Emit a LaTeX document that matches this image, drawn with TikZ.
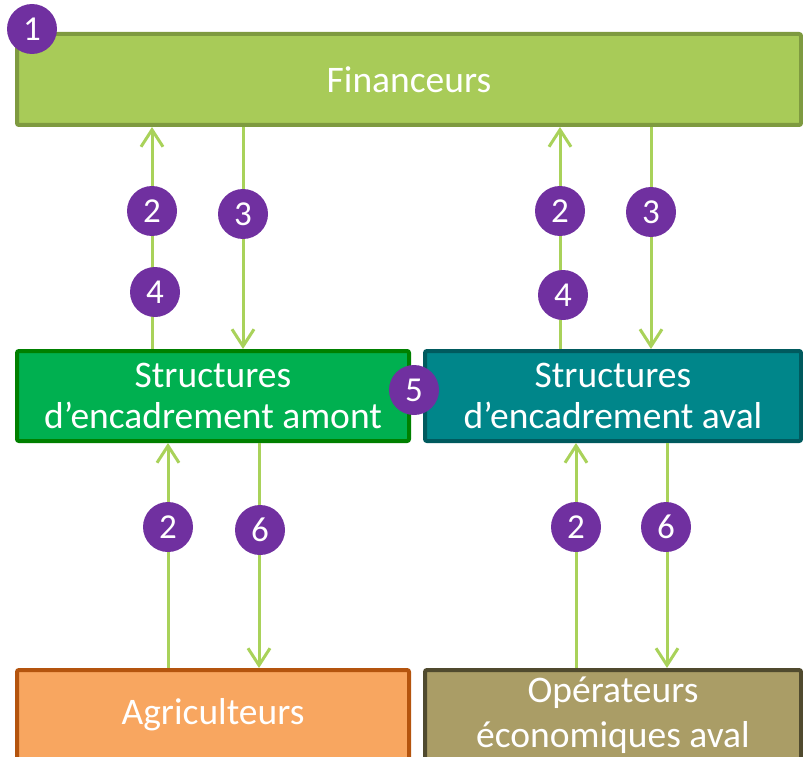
\documentclass[tikz,border=0pt]{standalone}
\usepackage{fontspec}
\setmainfont{Carlito}
\usetikzlibrary{arrows.meta, positioning, calc}
\definecolor{finfill}{RGB}{168,203,88}
\definecolor{finline}{RGB}{126,154,64}
\definecolor{amontfill}{RGB}{0,176,80}
\definecolor{amontline}{RGB}{0,128,0}
\definecolor{avalfill}{RGB}{0,134,138}
\definecolor{avalline}{RGB}{0,90,94}
\definecolor{agrifill}{RGB}{248,166,96}
\definecolor{agriline}{RGB}{180,84,14}
\definecolor{operfill}{RGB}{170,157,102}
\definecolor{operline}{RGB}{80,74,46}
\definecolor{numpurple}{RGB}{112,48,160}
\definecolor{arrgreen}{RGB}{169,210,90}

\begin{document}
\begin{tikzpicture}[x=1pt,y=-1pt,
        box/.style={draw, line width=4pt, rounded corners=2pt, text=white, align=center,
          font=\fontsize{37.5}{41}\selectfont},
        num/.style={circle, fill=numpurple, text=white, minimum size=50pt, inner sep=0pt,
          font=\fontsize{35}{35}\selectfont},
        arr/.style={draw=arrgreen, line width=3pt, -{Straight Barb[length=17pt,width=22pt]}}]
        \useasboundingbox (0,0) rectangle (803,757);

        % boxes
        \node[box, fill=finfill, draw=finline, minimum width=784pt, minimum height=91pt] (fin) at (409,79.5) {Financeurs};
        \node[box, fill=amontfill, draw=amontline, minimum width=392pt, minimum height=90pt] (amont) at (213,396) {Structures\\d’encadrement amont};
        \node[box, fill=avalfill, draw=avalline, minimum width=376pt, minimum height=90pt] (aval) at (613,396) {Structures\\d’encadrement aval};
        \node[box, fill=agrifill, draw=agriline, minimum width=392pt, minimum height=90pt] (agri) at (213,715) {Agriculteurs};
        \node[box, fill=operfill, draw=operline, minimum width=376pt, minimum height=90pt,
          font=\fontsize{37.5}{45}\selectfont] (oper) at (613,715) {Opérateurs\\économiques aval};

        % anchors of the connectors
        \coordinate (xa2) at (152,0);
        \coordinate (xa3) at (243,0);
        \coordinate (xb2) at (560,0);
        \coordinate (xb3) at (651,0);
        \coordinate (xc2) at (168,0);
        \coordinate (xc6) at (259,0);
        \coordinate (xd2) at (576,0);
        \coordinate (xd6) at (667,0);

        \draw[arr] (amont.north -| xa2) -- (fin.south -| xa2);
        \draw[arr] (fin.south -| xa3) -- (amont.north -| xa3);
        \draw[arr] (aval.north -| xb2) -- (fin.south -| xb2);
        \draw[arr] (fin.south -| xb3) -- (aval.north -| xb3);
        \draw[arr] (agri.north -| xc2) -- (amont.south -| xc2);
        \draw[arr] (amont.south -| xc6) -- (agri.north -| xc6);
        \draw[arr] (oper.north -| xd2) -- (aval.south -| xd2);
        \draw[arr] (aval.south -| xd6) -- (oper.north -| xd6);

        % numbers
        \node[num] (n1) at (32,29) {1};
        \node[num] (a2) at (152,211) {2};
        \node[num] (a4) at (155,292) {4};
        \node[num] (a3) at (243,214) {3};
        \node[num] (b2) at (560,211) {2};
        \node[num] (b4) at (563,295) {4};
        \node[num] (b3) at (651,212) {3};
        \node[num] (n5) at (414,390) {5};
        \node[num] (c2) at (168,527) {2};
        \node[num] (c6) at (260,530) {6};
        \node[num] (d2) at (576,527) {2};
        \node[num] (d6) at (666,527) {6};
\end{tikzpicture}
\end{document}
